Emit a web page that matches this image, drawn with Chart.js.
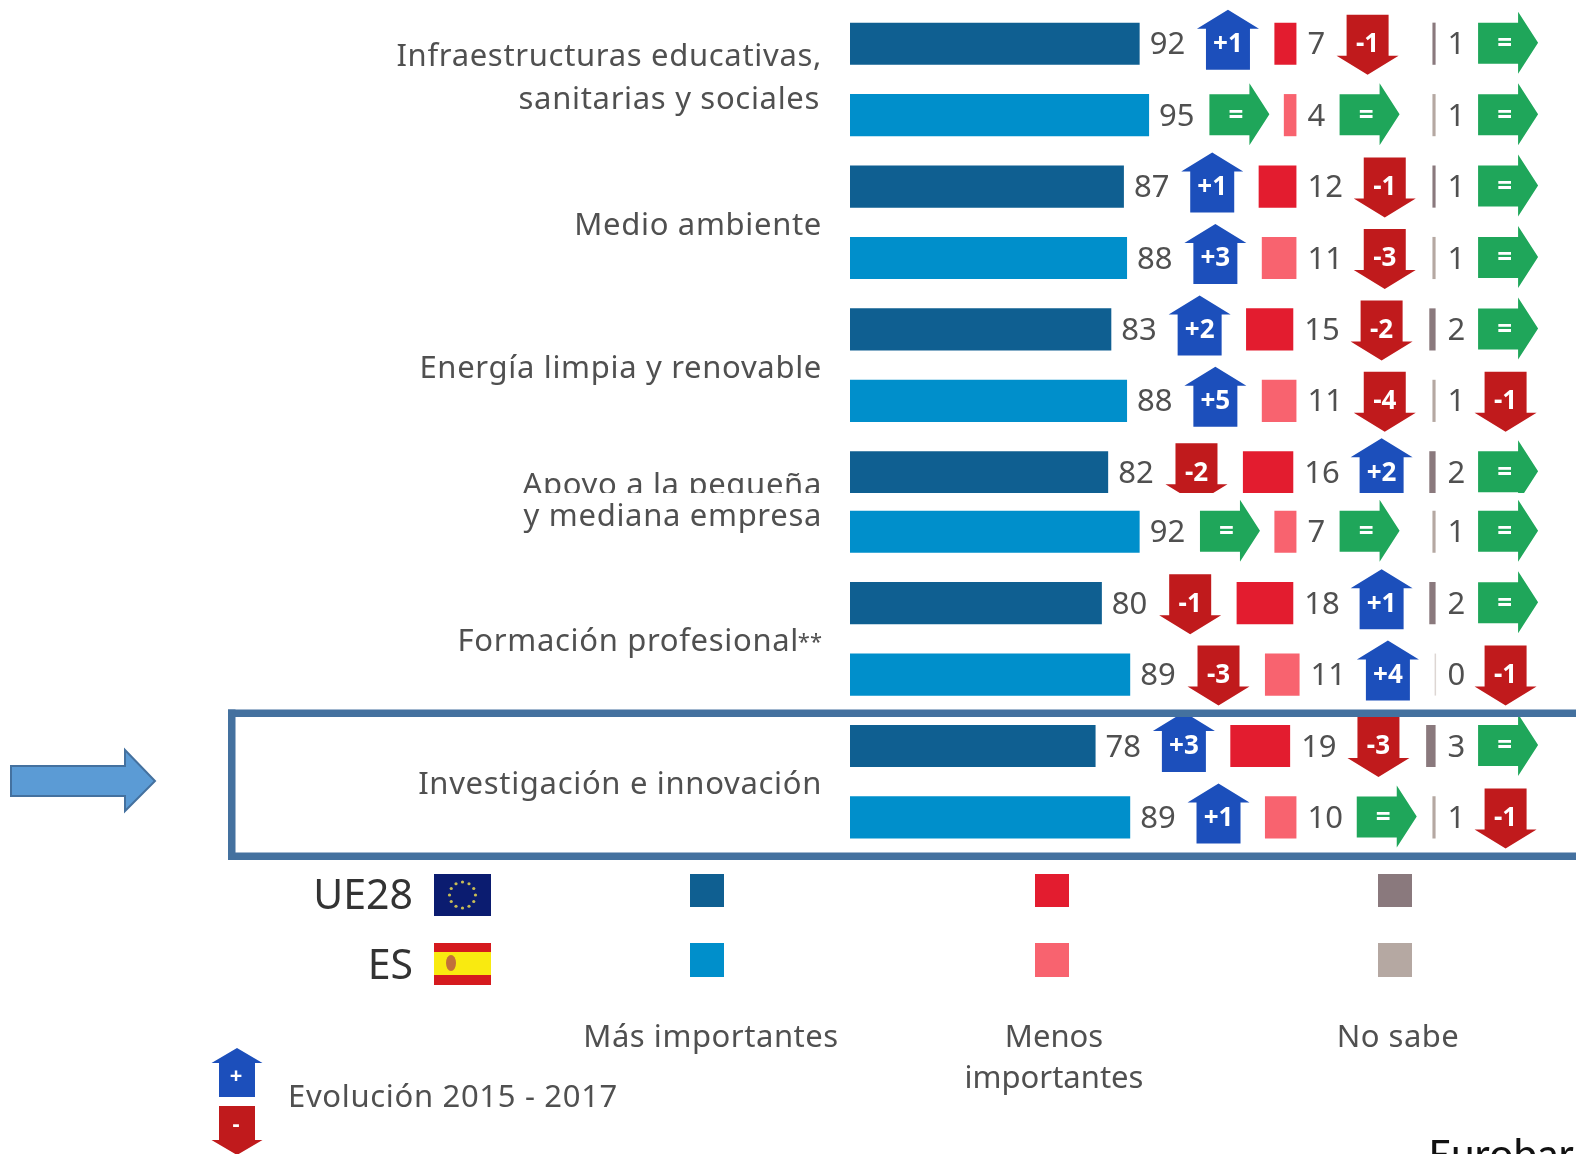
<!DOCTYPE html>
<html lang="es"><head><meta charset="utf-8">
<style>
html,body{margin:0;padding:0;background:#fff;width:1576px;height:1154px;overflow:hidden}
canvas{position:absolute;left:0;display:block;filter:blur(0.55px)}
#a{top:0}
#b{top:493px;background:#fff}
</style>
<script src="https://cdn.jsdelivr.net/npm/chart.js@4"></script>
</head><body>
<canvas id="a" width="1576" height="510"></canvas>
<canvas id="b" width="1576" height="661"></canvas>
<script>
const categoryLines = [
  ["Infraestructuras educativas,", "sanitarias y sociales"],
  ["Medio ambiente"],
  ["Energía limpia y renovable"],
  ["Apoyo a la pequeña", "y mediana empresa"],
  ["Formación profesional**"],
  ["Investigación e innovación"]
];
const rowLabels = ["UE28","ES","UE28","ES","UE28","ES","UE28","ES","UE28","ES","UE28","ES"];
const masImportantes   = [92,95,87,88,83,88,82,92,80,89,78,89];
const menosImportantes = [7,4,12,11,15,11,16,7,18,11,19,10];
const noSabe           = [1,1,1,1,2,1,2,1,2,0,3,1];
const evolMas   = ["+1","=","+1","+3","+2","+5","-2","=","-1","-3","+3","+1"];
const evolMenos = ["-1","=","-1","-3","-2","-4","+2","=","+1","+4","-3","="];
const evolNoSabe= ["=","=","=","=","=","-1","=","=","=","-1","=","-1"];
const legendColumns = ["Más importantes", ["Menos","importantes"], "No sabe"];
const legendEvolution = "Evolución 2015 - 2017";
const sourceText = "Eurobar";

const COL = {more:["#0f5f91","#008fcb"],less:["#e31c2f","#f8636f"],dk:["#8a797d","#b5a8a2"],
  up:"#1c4fbb",down:"#c01a1c",same:"#1fa65a",text:"#505050",frame:"#44719f"};
const FONT = '"Noto Sans"';
const LESS_END = 142.8, DK_END = 186, X_MAX = 230.6, TRACK = "0.68px";

function poly(c,pts,fill,stroke){c.beginPath();pts.forEach((p,i)=>i?c.lineTo(p[0],p[1]):c.moveTo(p[0],p[1]));c.closePath();
  c.fillStyle=fill;c.fill();if(stroke){c.strokeStyle=stroke;c.lineWidth=2;c.stroke();}}
function text(c,s,x,y,size,align,color,track){c.letterSpacing=track||"0px";c.font=size+"px "+FONT;c.textAlign=align||"left";
  c.textBaseline="alphabetic";c.fillStyle=color||COL.text;c.fillText(s,x,y);c.letterSpacing="0px";}
function upArrow(c,x,y,sw,hw,top,neck,bot){poly(c,[[x,y+top],[x+hw,y+neck],[x+sw,y+neck],[x+sw,y+bot],[x-sw,y+bot],[x-sw,y+neck],[x-hw,y+neck]],COL.up);}
function downArrow(c,x,y,sw,hw,top,neck,tip){poly(c,[[x-sw,y+top],[x+sw,y+top],[x+sw,y+neck],[x+hw,y+neck],[x,y+tip],[x-hw,y+neck],[x-sw,y+neck]],COL.down);}
function badge(c,code,cx,cy){
  let tx=cx;
  if(code==="=") {
    poly(c,[[cx-30,cy-21],[cx+10,cy-21],[cx+10,cy-32],[cx+30,cy-1],[cx+10,cy+30],[cx+10,cy+20],[cx-30,cy+20]],COL.same);
    tx=cx-3.5;
  } else if(code[0]==="+") upArrow(c,cx,cy,22,31,-34,-15,26);
  else downArrow(c,cx,cy,21,31,-29,12,31);
  c.font="bold 26px "+FONT;c.textAlign="center";c.textBaseline="middle";c.fillStyle="#fff";
  c.fillText(code,tx,cy+1);
}
function numWidth(c,s){c.font="30px "+FONT;return c.measureText(s).width;}
function catLine(c,s,x,y){
  if(s.endsWith("**")){
    text(c,"**",x,y-2,22,"right",COL.text);
    text(c,s.slice(0,-2),x-23,y,31,"right",COL.text,TRACK);
  } else text(c,s,x,y,31,"right",COL.text,TRACK);
}

const marksPlugin = {
  id:"marks",
  afterDatasetsDraw(chart,args,opts){
    const c=chart.ctx,xs=chart.scales.x,ys=chart.scales.y,off=opts.offset;
    c.save();
    chart.data.labels.forEach((_,i)=>{
      const r=i+off,y=ys.getPixelForValue(i);
      const moreEnd=xs.getPixelForValue(masImportantes[r]);
      const s1=String(masImportantes[r]);
      text(c,s1,moreEnd+10,y+10.5,31);
      badge(c,evolMas[r],moreEnd+54+numWidth(c,s1)+(evolMas[r]==="="?2:0),y);
      const lessEnd=xs.getPixelForValue(LESS_END-noSabe[r]);
      const s2=String(menosImportantes[r]);
      text(c,s2,lessEnd+11,y+10.5,31);
      badge(c,evolMenos[r],lessEnd+54+numWidth(c,s2)+(evolMenos[r]==="="?2:0),y);
      const dkEnd=xs.getPixelForValue(DK_END);
      if(noSabe[r]===0){c.fillStyle="#ddd6d3";c.fillRect(dkEnd-1,y-21,1.5,42);}
      text(c,String(noSabe[r]),dkEnd+12,y+10.5,31);
      badge(c,evolNoSabe[r],dkEnd+(evolNoSabe[r]==="="?72.5:70),y);
    });
    categoryLines.forEach((lines,g)=>{
      const a=g*2-off,b=a+1;
      const rx=xs.getPixelForValue(0)-28;
      if(g===3){
        if(off===0) catLine(c,lines[0],rx,ys.getPixelForValue(a)+23);
        else catLine(c,lines[1],rx,ys.getPixelForValue(0)-5.5);
        return;
      }
      if(a<0||b>=chart.data.labels.length) return;
      const m=(ys.getPixelForValue(a)+ys.getPixelForValue(b))/2;
      if(lines.length===2){catLine(c,lines[0],rx,m-13.5);catLine(c,lines[1],rx-2,m+29.5);}
      else catLine(c,lines[0],rx,m+12.5);
    });
    if(off>0) pageDecor(c,chart.canvas.offsetTop);
    c.restore();
  }
};

function pageDecor(c,top){
  c.save();c.translate(0,-top);
  // highlight frame
  c.fillStyle=COL.frame;
  c.fillRect(228,709.5,1348,7.5);c.fillRect(228,852.5,1348,7.5);c.fillRect(228,709.5,7.5,150.5);
  // pointer arrow
  poly(c,[[11,766],[125,766],[125,750],[155,781],[125,811],[125,796],[11,796]],"#5b9bd5",COL.frame);
  // row labels and flags
  text(c,"UE28",413,909,41,"right","#333");
  text(c,"ES",413,979,41,"right","#333");
  c.fillStyle="#0b1c70";c.fillRect(434,874,57,42);
  c.fillStyle="#c8bd55";
  for(let k=0;k<12;k++){const t=k*Math.PI/6;c.beginPath();c.arc(462.5+13*Math.cos(t),895+13*Math.sin(t),1.6,0,7);c.fill();}
  c.fillStyle="#d51a1e";c.fillRect(434,943,57,42);
  c.fillStyle="#f9ea10";c.fillRect(434,952,57,23);
  c.fillStyle="#c2703a";c.beginPath();c.ellipse(451,963,5,8,0,0,7);c.fill();
  // legend swatches
  [[690,COL.more],[1035,COL.less],[1378,COL.dk]].forEach(([x,col])=>{
    c.fillStyle=col[0];c.fillRect(x,874,34,33);
    c.fillStyle=col[1];c.fillRect(x,943,34,34);
  });
  text(c,legendColumns[0],711,1047,31,"center",COL.text,"0.55px");
  text(c,legendColumns[1][0],1054,1047,31,"center");
  text(c,legendColumns[1][1],1054,1088,31,"center");
  text(c,legendColumns[2],1398,1047,31,"center",COL.text,"0.5px");
  // evolution key
  upArrow(c,237,0,18,25.5,1048,1063,1097);
  downArrow(c,237,0,18,25.5,1106,1140,1155);
  c.font="bold 22px "+FONT;c.textAlign="center";c.textBaseline="middle";c.fillStyle="#fff";
  c.fillText("+",236,1077);c.fillText("-",236,1125);
  text(c,legendEvolution,288,1107,31,"left",COL.text,TRACK);
  // source
  c.font="45px Carlito, Lato, 'Liberation Sans'";c.textAlign="left";c.textBaseline="alphabetic";c.fillStyle="#111";
  c.fillText(sourceText,1429,1169);
  c.restore();
}

function build(id,from,to,padTop,padBottom,offset){
  const labels=rowLabels.slice(from,to);
  const shade=(k)=>(ctx)=>COL[k][(ctx.dataIndex+offset)%2];
  return new Chart(document.getElementById(id),{
    type:"bar",
    data:{labels,datasets:[
      {label:"Más importantes",data:masImportantes.slice(from,to),backgroundColor:shade("more")},
      {label:"Menos importantes",data:menosImportantes.slice(from,to).map((v,i)=>[LESS_END-noSabe[i+from]-v,LESS_END-noSabe[i+from]]),backgroundColor:shade("less")},
      {label:"No sabe",data:noSabe.slice(from,to).map(v=>[DK_END-v,DK_END]),backgroundColor:shade("dk")}
    ]},
    options:{
      indexAxis:"y",responsive:false,animation:false,devicePixelRatio:1,
      layout:{padding:{left:850,right:0,top:padTop,bottom:padBottom}},
      datasets:{bar:{grouped:false,barPercentage:0.59,categoryPercentage:1,borderWidth:0}},
      scales:{x:{display:false,min:0,max:X_MAX},y:{display:false}},
      plugins:{legend:{display:false},tooltip:{enabled:false},title:{display:false},marks:{offset}}
    },
    plugins:[marksPlugin]
  });
}
build("a",0,7,8,2,0);
build("b",7,12,3,300.85,7);
</script>
</body></html>
